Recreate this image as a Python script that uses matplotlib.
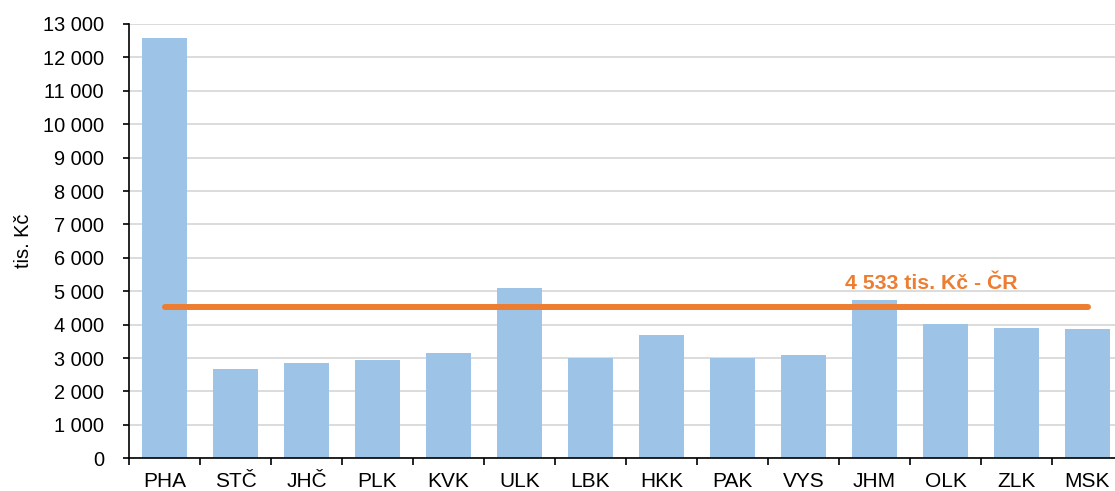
import numpy as np
import matplotlib.pyplot as plt
from matplotlib.ticker import FuncFormatter, FixedLocator

# data
regions = ['PHA', 'STČ', 'JHČ', 'PLK', 'KVK', 'ULK', 'LBK', 'HKK', 'PAK', 'VYS',
           'JHM', 'OLK', 'ZLK', 'MSK']
values = [12590, 2670, 2845, 2945, 3145, 5110, 3005, 3690, 3010, 3085,
          4740, 4020, 3900, 3870]
cr_avg = 4533
cr_label = '4 533 tis. Kč - ČR'

plt.rcParams['font.family'] = ['Liberation Sans', 'DejaVu Sans']

fig = plt.figure(figsize=(11.15, 4.91), dpi=100)
ax = fig.add_axes([129 / 1115, 32.7 / 491, 994 / 1115, 434.3 / 491])

x = np.arange(len(regions))
ax.bar(x, values, width=0.62, color='#9DC3E6', zorder=2)
ax.plot([x[0], x[-1]], [cr_avg, cr_avg], color='#ED7D31', lw=4.3,
        solid_capstyle='round', zorder=3)
ax.text(10.8, cr_avg + 420, cr_label, color='#ED7D31', fontsize=15.3,
        fontweight='bold', ha='center', va='bottom')

ax.set_xlim(-0.5, len(regions) - 0.5)
ax.set_ylim(0, 13000)
ax.set_yticks(np.arange(0, 13001, 1000))
ax.yaxis.set_major_formatter(FuncFormatter(lambda v, p: f'{int(v):,}'.replace(',', ' ')))
ax.xaxis.set_major_locator(FixedLocator(np.arange(-0.5, len(regions), 1)))
ax.xaxis.set_major_formatter(plt.NullFormatter())
ax.xaxis.set_minor_locator(FixedLocator(x))
ax.set_xticklabels(regions, minor=True)
ax.tick_params(axis='x', which='minor', length=0, labelsize=15, pad=10)
ax.tick_params(axis='x', which='major', length=5, width=1.2, direction='out')
ax.tick_params(axis='y', length=4, width=1.2, labelsize=14.4, pad=14)

ax.grid(axis='y', color='#D9D9D9', lw=1.3, zorder=0)
ax.set_axisbelow(True)
for s in ['top', 'right']:
    ax.spines[s].set_visible(False)
for s in ['left', 'bottom']:
    ax.spines[s].set_linewidth(1.2)
ax.set_ylabel('tis. Kč', fontsize=14.4, labelpad=7)

fig.savefig('out.png', dpi=100)
